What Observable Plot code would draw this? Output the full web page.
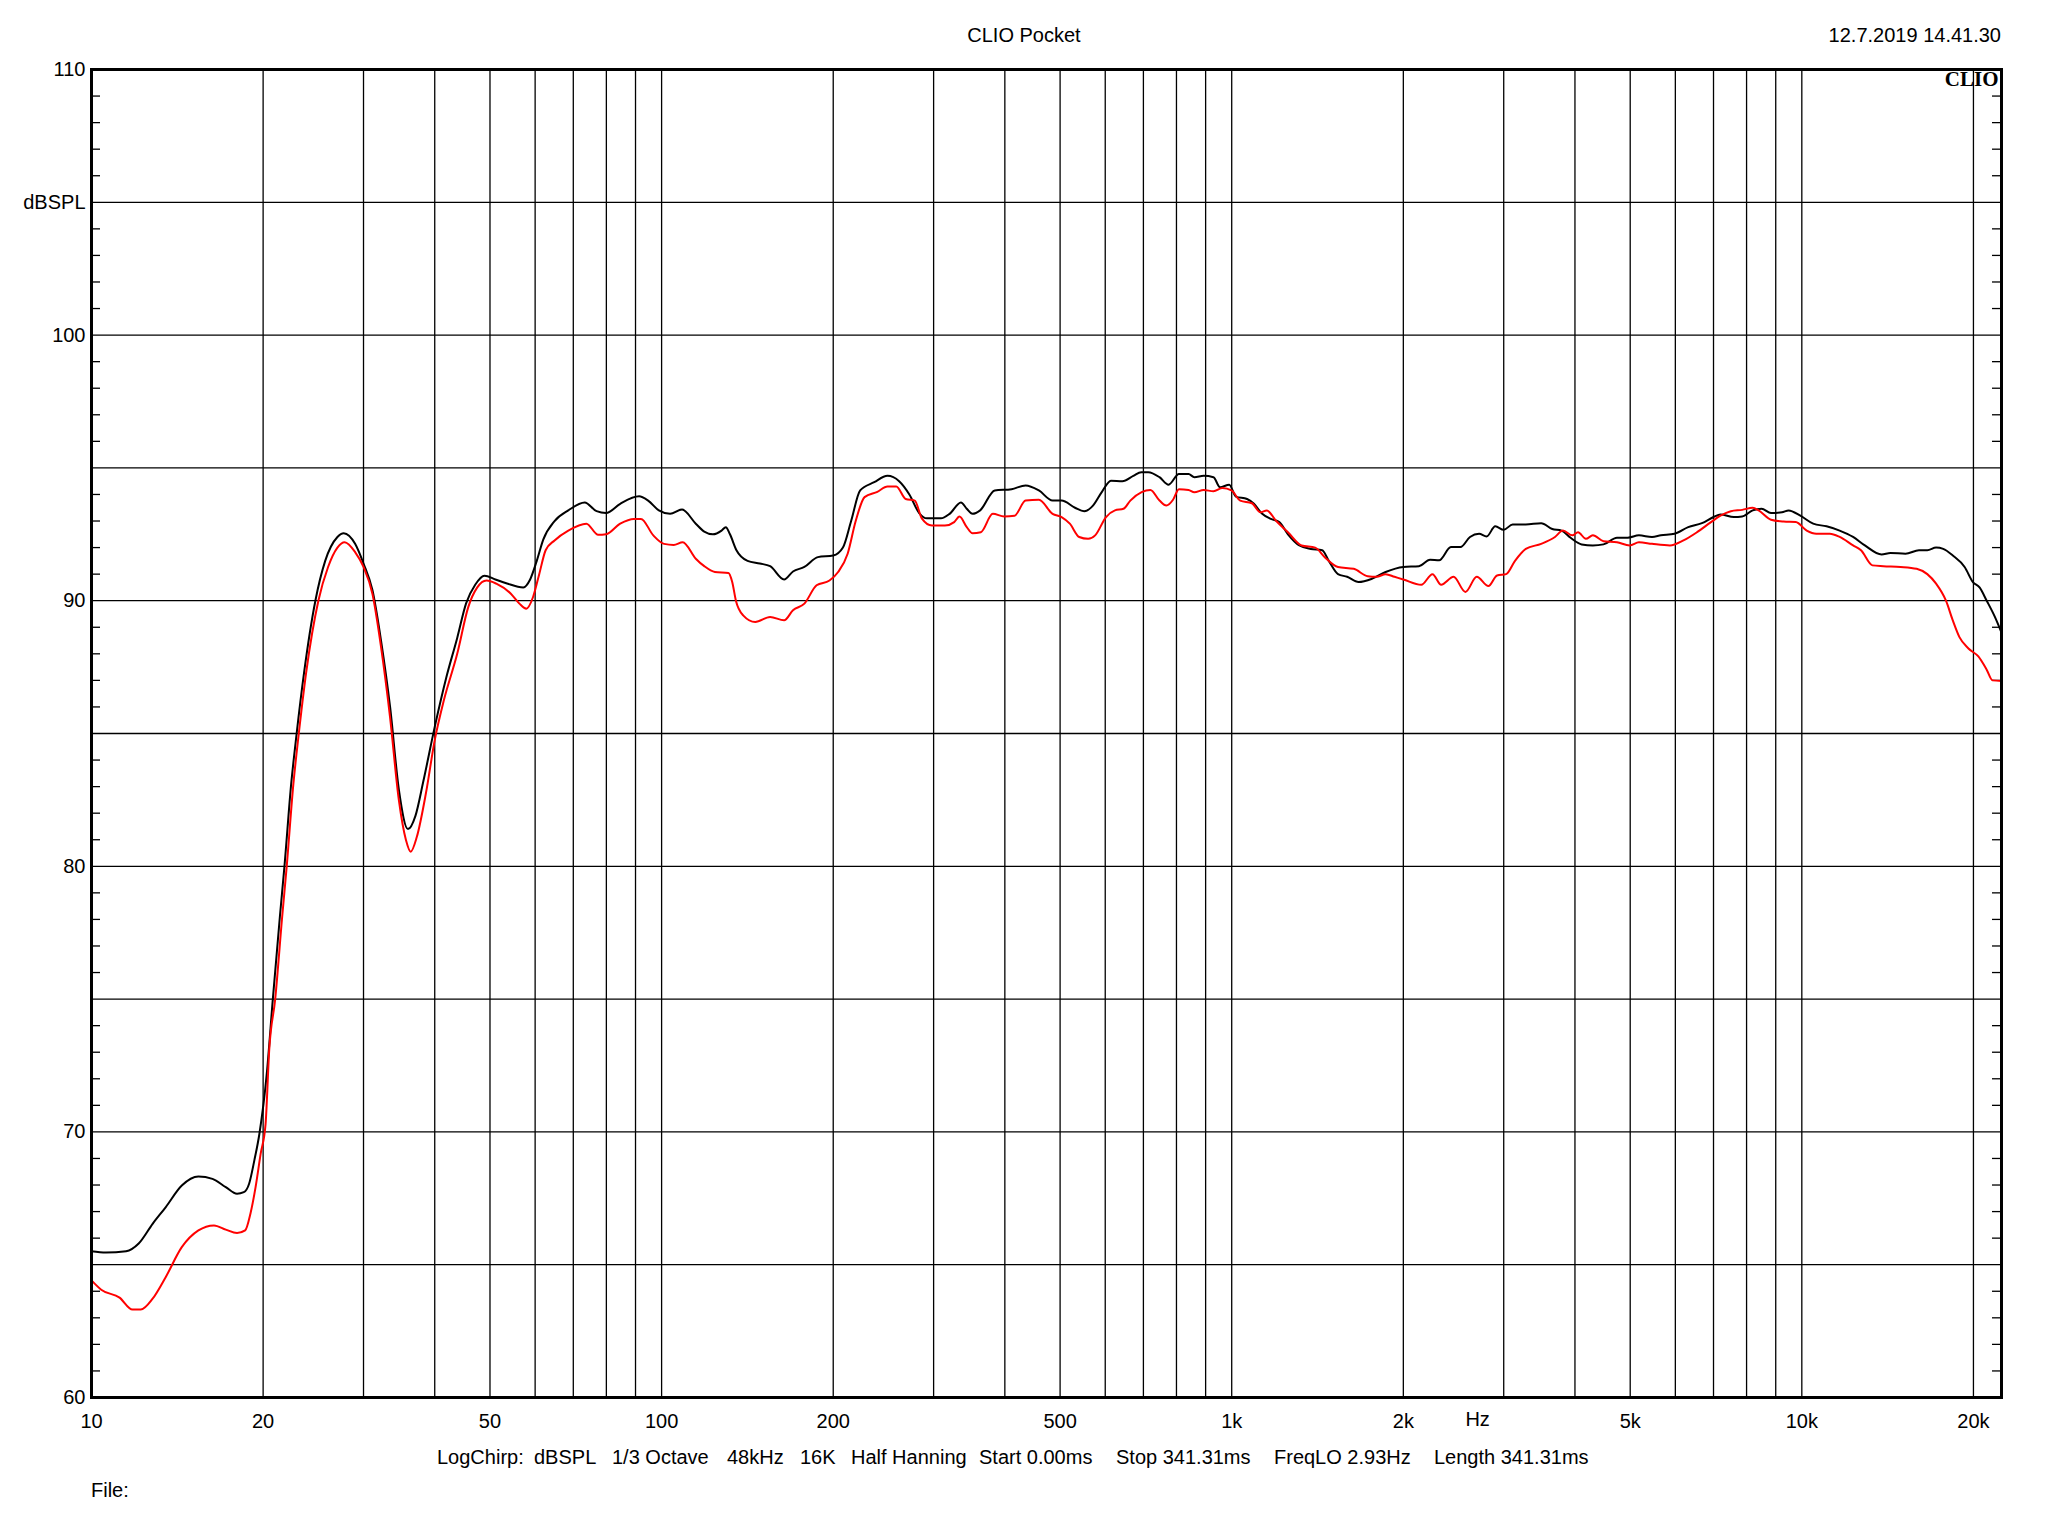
<!DOCTYPE html>
<html><head><meta charset="utf-8">
<script src="https://cdn.jsdelivr.net/npm/d3@7"></script>
<script src="https://cdn.jsdelivr.net/npm/@observablehq/plot@0.6"></script>
<style>
body{margin:0;background:#fff;font-family:"Liberation Sans",Arial,sans-serif;color:#000;}
#page{position:relative;width:2048px;height:1536px;overflow:hidden;}
.t{position:absolute;font-size:20px;line-height:22px;white-space:pre;}
#chart{position:absolute;left:0;top:52px;}
</style></head><body><div id="page">
<div class="t" style="left:0;width:2048px;text-align:center;top:24px">CLIO Pocket</div>
<div class="t" style="right:47px;top:24px">12.7.2019 14.41.30</div>
<div id="chart"></div>
<div id="info"></div>
<div class="t" style="left:91px;top:1479px">File:</div>
</div>
<script>
const blackFreq = [10,10.6,11.5,12.1,12.8,13.5,14.4,15.4,16.3,17.2,18.0,18.5,18.9,19.3,19.7,20.3,20.8,21.4,21.8,22.4,22.9,23.6,24.7,25.7,27.0,27.7,29.0,30.0,31.1,32.2,33.4,34.6,35.9,37.0,38.2,40.0,41.9,43.8,45.4,47.1,48.9,51.1,53.4,57.2,58.8,60.4,62.0,64.9,68.6,73.3,76.9,79.9,84.6,91.3,94.7,98.9,103.5,108.6,114.8,118.8,123,127.4,129.6,131.8,135.3,141.5,148.7,155,164,170,178,188,200,208,215,223,236,249,261,272,283,292,309,320,335,343,351,362,384,411,435,459,485,503,531,551,571,592,614,643,672,694,714,747,775,808,840,860,893,929,954,990,1017,1064,1094,1131,1171,1212,1255,1314,1376,1441,1480,1536,1594,1669,1764,1862,2000,2130,2228,2311,2424,2519,2618,2716,2800,2899,3000,3110,3279,3490,3650,3790,3930,4110,4300,4490,4740,4950,5180,5460,5660,5980,6320,6680,7000,7200,7600,7860,8200,8500,8830,9230,9480,9940,10470,11050,11650,12300,12900,13800,14300,15200,16050,16600,17200,17700,18400,19300,19960,20500,21100,21800,22400];
const blackLevel = [65.51,65.46,65.51,65.8,66.54,67.17,67.98,68.32,68.23,67.92,67.67,67.73,68.05,68.92,69.92,72.2,75.0,78.1,80.0,83.1,85.0,87.3,90.0,91.5,92.4,92.54,92.14,91.4,90.4,88.5,86.0,82.9,81.4,81.9,83.2,85.25,87.1,88.6,89.9,90.6,90.94,90.8,90.66,90.5,90.8,91.5,92.3,93.0,93.4,93.7,93.37,93.3,93.65,93.93,93.77,93.4,93.27,93.43,92.9,92.6,92.5,92.64,92.77,92.5,91.9,91.5,91.4,91.3,90.8,91.1,91.27,91.64,91.7,92.0,93.0,94.15,94.46,94.7,94.5,94.0,93.3,93.1,93.1,93.27,93.7,93.46,93.27,93.4,94.15,94.2,94.34,94.15,93.77,93.77,93.5,93.37,93.58,94.1,94.52,94.5,94.7,94.84,94.84,94.65,94.37,94.77,94.77,94.65,94.7,94.65,94.27,94.37,93.92,93.83,93.65,93.27,93.08,92.96,92.5,92.08,91.95,91.9,91.5,91.0,90.9,90.7,90.83,91.08,91.27,91.3,91.54,91.52,92.02,92.02,92.4,92.52,92.42,92.8,92.67,92.87,92.87,92.92,92.7,92.64,92.37,92.12,92.08,92.12,92.37,92.37,92.46,92.4,92.46,92.52,92.77,92.92,93.15,93.25,93.15,93.17,93.4,93.46,93.3,93.33,93.4,93.2,92.9,92.8,92.64,92.4,92.08,91.74,91.8,91.77,91.9,91.9,92.0,91.95,91.7,91.27,90.7,90.5,90.0,89.4,88.8];
const redFreq = [10,10.4,11.2,11.8,12.2,12.8,13.5,14.4,15.4,16.4,17.2,18.0,18.6,19.0,19.4,19.8,20.2,20.5,21.0,21.6,22.0,22.6,23.1,23.8,25.0,26.0,27.0,27.8,29.0,30.0,31.1,32.2,33.4,34.6,35.6,36.3,37.2,38.6,40.0,41.5,43.8,45.8,47.5,49.3,51.3,54.4,56.3,57.9,59.5,61.0,62.6,64.9,68.6,73.8,77.4,79.9,84.6,89.4,92.0,96.7,101,105,108.9,114.8,118.8,124,131,133,135,139,146,155,164,170,178,187,197,204,212,219,227,239,249,258,268,278,286,298,314,326,333,343,351,363,381,399,416,435,459,485,503,520,540,560,576,602,624,646,664,695,720,747,768,789,808,840,860,893,929,963,999,1035,1085,1123,1152,1197,1255,1326,1401,1456,1536,1637,1732,1795,1862,1930,2000,2150,2250,2330,2450,2570,2690,2820,2920,3030,3140,3280,3490,3690,3810,3960,4050,4180,4300,4490,4740,4990,5180,5460,5870,6200,6550,6930,7200,7510,7860,8200,8400,8830,9290,9760,10200,10600,11200,11650,12300,12700,13300,13900,14900,15900,16600,17200,17900,18400,18900,19600,20400,21100,21600,22400];
const redLevel = [64.41,64.06,63.76,63.31,63.31,63.72,64.54,65.66,66.29,66.48,66.32,66.19,66.29,66.92,67.92,69.17,70.3,73.1,75.0,78.1,80.0,83.1,85.0,87.3,90.0,91.27,92.0,92.2,91.83,91.27,90.26,88.26,85.6,82.5,81.0,80.55,81.1,82.75,84.75,86.25,88.0,89.76,90.5,90.76,90.64,90.26,89.89,89.7,90.14,91.0,91.9,92.27,92.64,92.9,92.48,92.5,92.9,93.08,93.08,92.46,92.14,92.1,92.2,91.58,91.3,91.08,91.04,90.7,90.0,89.45,89.2,89.39,89.26,89.64,89.89,90.58,90.76,91.08,91.77,93.0,93.9,94.1,94.3,94.3,93.83,93.77,93.1,92.83,92.83,92.96,93.17,92.77,92.54,92.58,93.27,93.17,93.2,93.77,93.8,93.27,93.15,92.9,92.4,92.33,92.46,93.15,93.4,93.46,93.77,94.09,94.17,93.77,93.58,93.8,94.2,94.17,94.08,94.17,94.12,94.24,94.15,93.77,93.67,93.33,93.4,93.0,92.58,92.08,92.0,91.64,91.27,91.2,90.92,90.9,91.0,90.9,90.8,90.6,91.0,90.6,90.9,90.33,90.9,90.55,90.95,91.0,91.5,91.95,92.14,92.4,92.64,92.46,92.58,92.33,92.46,92.24,92.2,92.08,92.2,92.14,92.08,92.27,92.58,92.96,93.2,93.37,93.42,93.5,93.4,93.05,92.98,92.96,92.64,92.52,92.52,92.4,92.08,91.9,91.33,91.3,91.27,91.2,91.0,90.64,90.0,89.26,88.63,88.2,87.9,87.4,87.0,86.98];

const xTickValues = [10,20,50,100,200,500,1000,2000,5000,10000,20000];
const xTickLabels = ["10","20","50","100","200","500","1k","2k","5k","10k","20k"];
const yTickValues = [60,70,80,90,100,105,110];
const yTickLabels = ["60","70","80","90","100","dBSPL","110"];
const xGridValues = [20,30,40,50,60,70,80,90,100,200,300,400,500,600,700,800,900,1000,2000,3000,4000,5000,6000,7000,8000,9000,10000,20000];
const yGridValues = [65,70,75,80,85,90,95,100,105];
const yMinorValues = [61,62,63,64,66,67,68,69,71,72,73,74,76,77,78,79,81,82,83,84,86,87,88,89,91,92,93,94,96,97,98,99,101,102,103,104,106,107,108,109];
const unitLabel = ["Hz"];
const unitFreq = 2700;
const logoText = ["CLIO"];
const infoItems = ["LogChirp:","dBSPL","1/3 Octave","48kHz","16K","Half Hanning","Start 0.00ms","Stop 341.31ms","FreqLO 2.93Hz","Length 341.31ms"];
const infoLeft = [437,534,612,727,800,851,979,1116,1274,1434];

const W = 2048, H = 1388, mL = 91, mR = 47, mT = 17, mB = 43;
const innerW = W - mL - mR;
const black = blackFreq.map((f, i) => ({f, v: blackLevel[i]}));
const red = redFreq.map((f, i) => ({f, v: redLevel[i]}));
const xLab = new Map(xTickValues.map((v, i) => [v, xTickLabels[i]]));
const yLab = new Map(yTickValues.map((v, i) => [v, yTickLabels[i]]));

const chart = Plot.plot({
  width: W, height: H, marginLeft: mL, marginRight: mR, marginTop: mT, marginBottom: mB,
  style: {fontFamily: "'Liberation Sans', Arial, sans-serif", fontSize: "20px", color: "#000", background: "#fff", overflow: "visible"},
  x: {type: "log", domain: [10, 22400], label: null},
  y: {domain: [60, 110], label: null},
  marks: [
    Plot.ruleX(xGridValues, {stroke: "#000", strokeWidth: 1.3}),
    Plot.ruleY(yGridValues, {stroke: "#000", strokeWidth: 1.3}),
    Plot.ruleY(yMinorValues, {stroke: "#000", strokeWidth: 1.3, insetRight: innerW - 9}),
    Plot.ruleY(yMinorValues, {stroke: "#000", strokeWidth: 1.3, insetLeft: innerW - 9}),
    Plot.text(logoText, {frameAnchor: "top-right", dx: -3, dy: 2, textAnchor: "end", lineAnchor: "top", fontFamily: "'Liberation Serif', 'DejaVu Serif', serif", fontWeight: "bold", fontSize: 21}),
    Plot.line(black, {x: "f", y: "v", stroke: "#000", strokeWidth: 2, curve: "monotone-x"}),
    Plot.line(red, {x: "f", y: "v", stroke: "#ff0000", strokeWidth: 2, curve: "monotone-x"}),
    Plot.frame({stroke: "#000", strokeWidth: 3}),
    Plot.axisX(xTickValues, {anchor: "bottom", tickSize: 0, tickPadding: 16, tickFormat: d => xLab.get(d)}),
    Plot.axisY(yTickValues, {anchor: "left", tickSize: 0, tickPadding: 6, tickFormat: d => yLab.get(d)}),
    Plot.text(unitLabel, {x: unitFreq, frameAnchor: "bottom", dy: 28, fontSize: 20})
  ]
});
document.getElementById("chart").appendChild(chart);

const info = document.getElementById("info");
infoItems.forEach((s, i) => {
  const d = document.createElement("div");
  d.className = "t";
  d.style.left = infoLeft[i] + "px";
  d.style.top = "1446px";
  d.textContent = s;
  info.appendChild(d);
});
</script>
</body></html>
